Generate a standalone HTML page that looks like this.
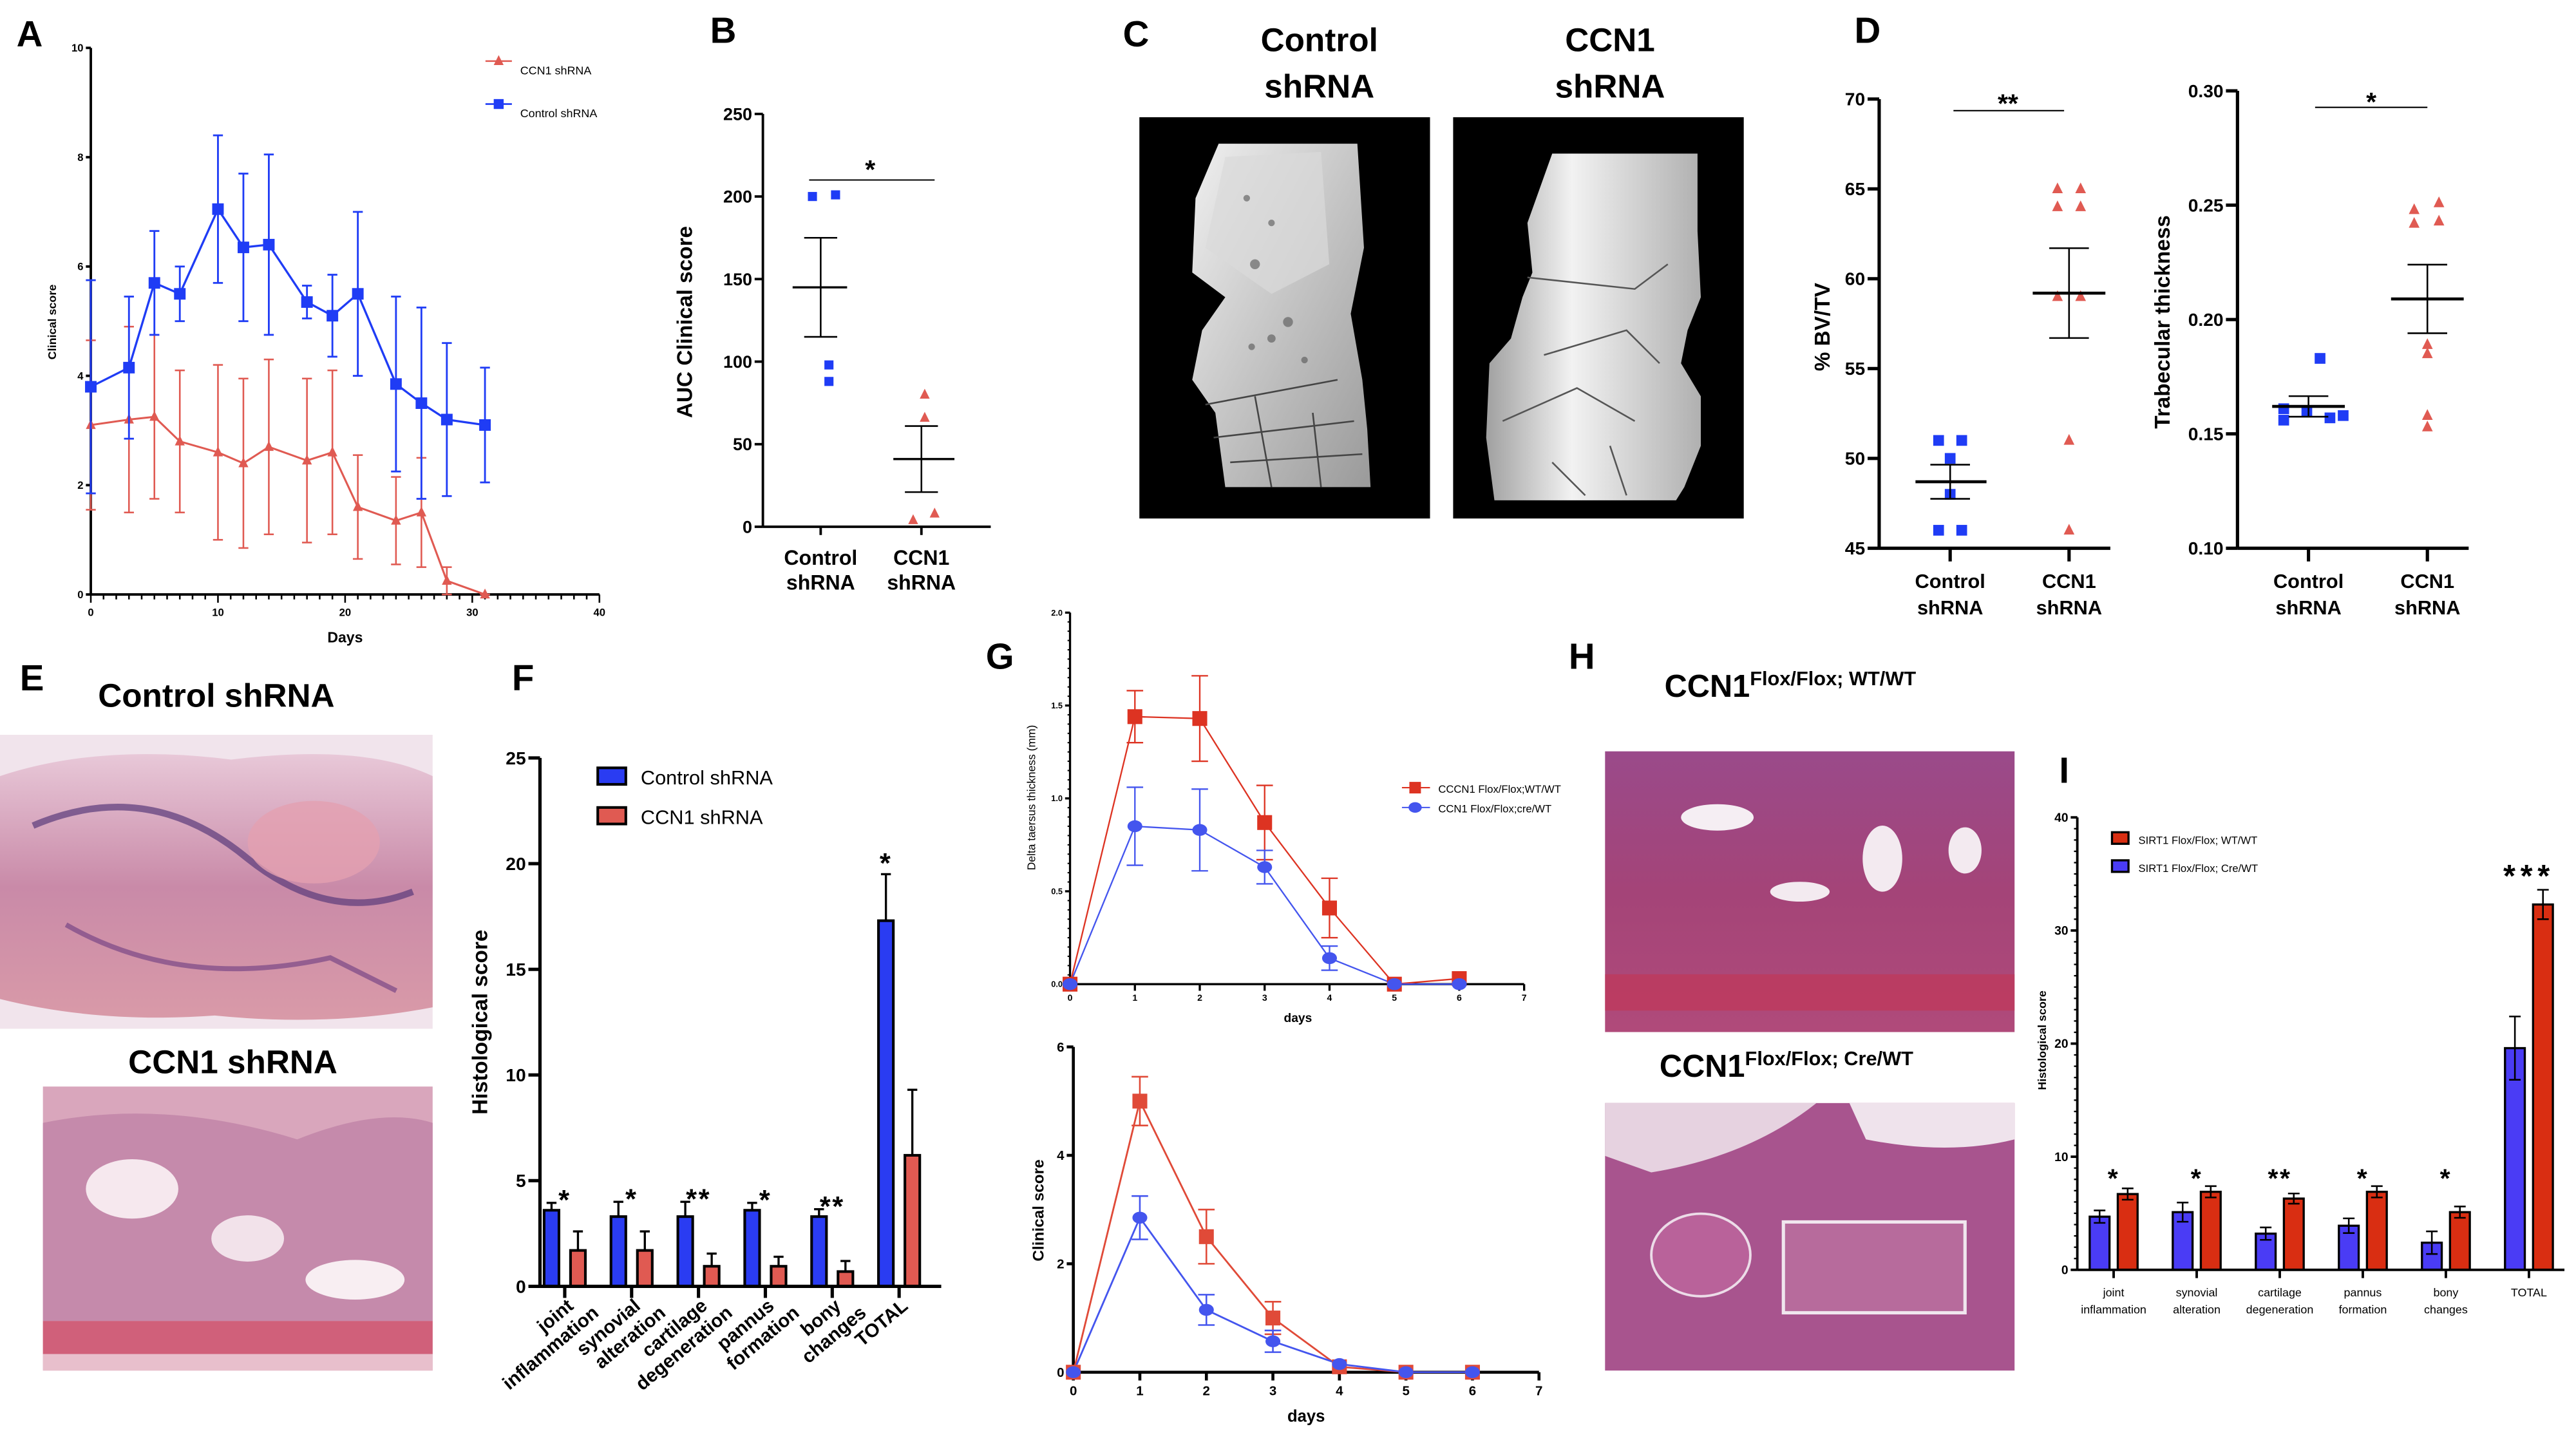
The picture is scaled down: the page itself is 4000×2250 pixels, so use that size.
<!DOCTYPE html>
<html><head><meta charset="utf-8">
<style>
html,body{margin:0;padding:0;background:#fff;}
svg{display:block;font-family:"Liberation Sans",Arial,sans-serif;}
.b{font-weight:bold;}
</style></head>
<body>
<svg id="fig" xmlns="http://www.w3.org/2000/svg" width="4000" height="2250" viewBox="0 0 1560 877.5">
<defs>
<linearGradient id="bone1" x1="0" y1="0" x2="1" y2="1"><stop offset="0" stop-color="#f0f0f0"/><stop offset="0.5" stop-color="#c4c4c4"/><stop offset="1" stop-color="#9a9a9a"/></linearGradient>
<linearGradient id="bone2" x1="0" y1="0" x2="1" y2="0"><stop offset="0" stop-color="#a0a0a0"/><stop offset="0.4" stop-color="#f2f2f2"/><stop offset="1" stop-color="#b0b0b0"/></linearGradient>
<linearGradient id="histE" x1="0" y1="0" x2="0" y2="1"><stop offset="0" stop-color="#e8c8d8"/><stop offset="0.5" stop-color="#c98aa8"/><stop offset="1" stop-color="#d99aa8"/></linearGradient>
<linearGradient id="histH" x1="0" y1="0" x2="0" y2="1"><stop offset="0" stop-color="#9a4a8a"/><stop offset="0.5" stop-color="#a44478"/><stop offset="1" stop-color="#b04a7a"/></linearGradient>
</defs>

<text class="b" x="10" y="28" font-size="22">A</text>
<text class="b" x="430" y="26" font-size="22">B</text>
<text class="b" x="680" y="28" font-size="22">C</text>
<text class="b" x="1123" y="26" font-size="22">D</text>
<text class="b" x="12" y="418" font-size="22">E</text>
<text class="b" x="310" y="418" font-size="22">F</text>
<text class="b" x="597" y="405" font-size="22">G</text>
<text class="b" x="950" y="405" font-size="22">H</text>
<text class="b" x="1247" y="474" font-size="22">I</text>

<g>
<text class="b" x="799" y="31" font-size="20" text-anchor="middle">Control</text>
<text class="b" x="799" y="59" font-size="20" text-anchor="middle">shRNA</text>
<rect x="690" y="71" width="176" height="243" fill="#000"/>
<path d="M738 87 L822 87 L826 150 L818 190 L825 230 L828 260 L830 295 L742 295 L736 250 L722 230 L728 200 L742 180 L722 165 L724 120 Z" fill="url(#bone1)"/>
<path d="M742 95 L800 92 L805 160 L770 178 L730 150 Z" fill="#dadada" opacity="0.7"/>
<g fill="#555" opacity="0.6"><circle cx="755" cy="120" r="2"/><circle cx="770" cy="135" r="2"/><circle cx="760" cy="160" r="3"/><circle cx="780" cy="195" r="3"/><circle cx="758" cy="210" r="2"/><circle cx="790" cy="218" r="2"/><circle cx="770" cy="205" r="2.5"/></g>
<path d="M730 245 L810 230 M735 265 L820 255 M760 240 L770 295 M745 280 L825 275 M795 250 L800 295" stroke="#444" stroke-width="1" fill="none"/>
</g>
<g>
<text class="b" x="975" y="31" font-size="20" text-anchor="middle">CCN1</text>
<text class="b" x="975" y="59" font-size="20" text-anchor="middle">shRNA</text>
<rect x="880" y="71" width="176" height="243" fill="#000"/>
<path d="M940 93 L1028 93 L1028 140 L1030 180 L1022 200 L1018 220 L1030 240 L1030 270 L1020 295 L1015 303 L905 303 L900 265 L902 220 L915 205 L922 180 L928 165 L925 135 Z" fill="url(#bone2)"/>
<path d="M925 168 L990 175 L1010 160 M935 215 L985 200 L1005 220 M910 255 L955 235 L990 255 M940 280 L960 300 M975 270 L985 300" stroke="#555" stroke-width="1" fill="none"/>
</g>

<g>
<text class="b" x="131" y="428" font-size="20" text-anchor="middle">Control shRNA</text>
<rect x="0" y="445" width="262" height="178" fill="#f1e4ec"/>
<path d="M0 470 Q60 450 140 460 Q220 450 262 470 L262 610 Q200 622 130 615 Q60 620 0 605 Z" fill="url(#histE)"/>
<path d="M20 500 Q90 470 150 520 Q200 560 250 540" stroke="#5a3a7a" stroke-width="4" fill="none" opacity="0.7"/>
<path d="M40 560 Q110 600 200 580 L240 600" stroke="#6a3a80" stroke-width="3" fill="none" opacity="0.6"/>
<ellipse cx="190" cy="510" rx="40" ry="25" fill="#e3a0b0" opacity="0.8"/>
<text class="b" x="141" y="650" font-size="20" text-anchor="middle">CCN1 shRNA</text>
<rect x="26" y="658" width="236" height="172" fill="#d9a6bc"/>
<path d="M26 680 Q100 665 180 690 Q230 670 262 680 L262 800 L26 800 Z" fill="#c58aab"/>
<ellipse cx="80" cy="720" rx="28" ry="18" fill="#f6e8ee"/>
<ellipse cx="150" cy="750" rx="22" ry="14" fill="#f2e2ea"/>
<ellipse cx="215" cy="775" rx="30" ry="12" fill="#f8eef2"/>
<rect x="26" y="800" width="236" height="20" fill="#d0607a"/>
<rect x="26" y="820" width="236" height="10" fill="#e8bfcc"/>
</g>

<g>
<text class="b" x="1008" y="422" font-size="19">CCN1<tspan font-size="12" dy="-7">Flox/Flox; WT/WT</tspan></text>
<rect x="972" y="455" width="248" height="170" fill="url(#histH)"/>
<ellipse cx="1040" cy="495" rx="22" ry="8" fill="#f5eef3"/>
<ellipse cx="1140" cy="520" rx="12" ry="20" fill="#f3eaf0"/>
<ellipse cx="1090" cy="540" rx="18" ry="6" fill="#f3eaf0"/>
<ellipse cx="1190" cy="515" rx="10" ry="14" fill="#f3eaf0"/>
<rect x="972" y="590" width="248" height="22" fill="#c03858" opacity="0.7"/>
<text class="b" x="1005" y="652" font-size="19">CCN1<tspan font-size="12" dy="-7">Flox/Flox; Cre/WT</tspan></text>
<rect x="972" y="668" width="248" height="162" fill="#a8548e"/>
<path d="M972 668 L1100 668 Q1060 700 1000 710 L972 700 Z" fill="#e6d2e0"/>
<path d="M1120 668 L1220 668 L1220 690 Q1180 700 1130 690 Z" fill="#efe3ec"/>
<rect x="1080" y="740" width="110" height="55" fill="#b76b9c" stroke="#f0e6ee" stroke-width="2"/>
<ellipse cx="1030" cy="760" rx="30" ry="25" fill="#b9629a" stroke="#ecdce8" stroke-width="1.5"/>
</g>

<g id="charts"></g>
</svg>

<script>
// ---------- DATA ----------
const aDays = [0,3,5,7,10,12,14,17,19,21,24,26,28,31];
const aCtrl = [3.8,4.15,5.7,5.5,7.05,6.35,6.4,5.35,5.1,5.5,3.85,3.5,3.2,3.1];
const aCtrlErr = [1.95,1.3,0.95,0.5,1.35,1.35,1.65,0.3,0.75,1.5,1.6,1.75,1.4,1.05];
const aCcn = [3.1,3.2,3.25,2.8,2.6,2.4,2.7,2.45,2.6,1.6,1.35,1.5,0.25,0];
const aCcnErr = [1.55,1.7,1.5,1.3,1.6,1.55,1.6,1.5,1.5,0.95,0.8,1.0,0.25,0];
const aXTicks = [0,10,20,30,40];
const aYTicks = [0,2,4,6,8,10];
const bCtrl = [200,201,98,88];
const bCcn = [80,66,4,8];
const bCtrlMean = [145,30];
const bCcnMean = [41,20];
const bYTicks = [0,50,100,150,200,250];
const dBvCtrl = [51,51,50,48,46,46];
const dBvCcn = [65,65,64,64,59,59,51,46];
const dBvCtrlMean = [48.7,0.95];
const dBvCcnMean = [59.2,2.5];
const dBvTicks = [45,50,55,60,65,70];
const dTtCtrl = [0.183,0.161,0.156,0.160,0.157,0.158];
const dTtCcn = [0.248,0.251,0.242,0.243,0.189,0.185,0.158,0.153];
const dTtCtrlMean = [0.162,0.0045];
const dTtCcnMean = [0.209,0.015];
const dTtTicks = [0.10,0.15,0.20,0.25,0.30];
const fCats = [["joint","inflammation"],["synovial","alteration"],["cartilage","degeneration"],["pannus","formation"],["bony","changes"],["TOTAL"]];
const fCtrl = [3.6,3.3,3.3,3.6,3.3,17.3];
const fCtrlErr = [0.35,0.7,0.7,0.35,0.35,2.2];
const fCcn = [1.7,1.7,0.95,0.95,0.7,6.2];
const fCcnErr = [0.9,0.9,0.6,0.45,0.5,3.1];
const fStars = ["*","*","**","*","**","*"];
const fYTicks = [0,5,10,15,20,25];
const gDays = [0,1,2,3,4,5,6];
const gThickWT = [0,1.44,1.43,0.87,0.41,0,0.03];
const gThickWTErr = [0,0.14,0.23,0.2,0.16,0,0];
const gThickCre = [0,0.85,0.83,0.63,0.14,0,0];
const gThickCreErr = [0,0.21,0.22,0.09,0.065,0,0];
const gScoreWT = [0,5,2.5,1,0.1,0,0];
const gScoreWTErr = [0,0.45,0.5,0.3,0,0,0];
const gScoreCre = [0,2.85,1.15,0.57,0.15,0,0];
const gScoreCreErr = [0,0.4,0.28,0.2,0,0,0];
const gXTicks = [0,1,2,3,4,5,6,7];
const gTopYTicks = [0,0.5,1.0,1.5,2.0];
const gBotYTicks = [0,2,4,6];
const iCats = [["joint","inflammation"],["synovial","alteration"],["cartilage","degeneration"],["pannus","formation"],["bony","changes"],["TOTAL"]];
const iCre = [4.7,5.1,3.2,3.9,2.4,19.6];
const iCreErr = [0.55,0.85,0.55,0.65,1.0,2.8];
const iWT = [6.7,6.9,6.3,6.9,5.1,32.3];
const iWTErr = [0.5,0.5,0.45,0.5,0.5,1.3];
const iStars = ["*","*","**","*","*","***"];
const iYTicks = [0,10,20,30,40];

// ---------- HELPERS ----------
const NS = "http://www.w3.org/2000/svg";
const root = document.getElementById('charts');
function mk(parent, tag, attrs){const e=document.createElementNS(NS,tag);for(const k in attrs)e.setAttribute(k,attrs[k]);parent.appendChild(e);return e;}
function lin(d0,d1,r0,r1){return v=>r0+(v-d0)*(r1-r0)/(d1-d0);}
function grp(name){const g=mk(root,'g',{});


return g;}
function line(p,x1,y1,x2,y2,c,w,name){const e=mk(p,'line',{x1,y1,x2,y2,stroke:c,'stroke-width':w});


return e;}
function txt(p,x,y,s,size,opts,name){const e=mk(p,'text',Object.assign({x,y,'font-size':size},opts||{}));e.textContent=s;


return e;}
function errbar(p,x,y1,y2,cap,c,w,name){const g=mk(p,'g',{});


mk(g,'line',{x1:x,y1:y1,x2:x,y2:y2,stroke:c,'stroke-width':w});
mk(g,'line',{x1:x-cap,y1:y1,x2:x+cap,y2:y1,stroke:c,'stroke-width':w});
mk(g,'line',{x1:x-cap,y1:y2,x2:x+cap,y2:y2,stroke:c,'stroke-width':w});return g;}
function marker(p,type,x,y,s,c,name){let e;
if(type==='sq')e=mk(p,'rect',{x:x-s/2,y:y-s/2,width:s,height:s,fill:c});
else if(type==='tri')e=mk(p,'polygon',{points:`${x},${y-s*0.6} ${x-s/2},${y+s*0.4} ${x+s/2},${y+s*0.4}`,fill:c});
else e=mk(p,'ellipse',{cx:x,cy:y,rx:s/2,ry:s*0.4,fill:c});


return e;}
function poly(p,pts,c,w,name){const e=mk(p,'polyline',{points:pts.map(q=>q.join(',')).join(' '),fill:'none',stroke:c,'stroke-width':w});


return e;}
function yAxis(p,x,sy,ticks,fmt,tl,fs,name,minorStep,dmin,dmax,lw){
  const g=mk(p,'g',{});
  
  
  line(g,x,sy(dmin),x,sy(dmax),'#000',lw,'y-axis-line');
  if(minorStep){for(let v=dmin;v<=dmax+1e-9;v+=minorStep){line(g,x-tl*0.5,sy(v),x,sy(v),'#000',lw*0.6,'y-minor-tick');}}
  ticks.forEach(t=>{line(g,x-tl,sy(t),x,sy(t),'#000',lw,'y-tick');
    txt(g,x-tl-1.5,sy(t)+fs*0.35,fmt(t),fs,{'text-anchor':'end','font-weight':'bold'},'y-tick-label');});
  return g;}
const RED='#e05a52', BLUE='#1f3cf5';

// ---------- PANEL A ----------
(function(){
 const g=grp('panel-a-clinical-score-chart');
 const sx=lin(0,40,55,363), sy=lin(0,10,360,29);
 yAxis(g,55,sy,aYTicks,String,3,6.5,'a-y-axis',0,0,10,1.5);
 line(g,55,360,363,360,'#000',1.5,'a-x-axis-line');
 for(let d=0;d<=40;d++){line(g,sx(d),360,sx(d),d%10===0?365:363,'#000',1,'a-x-tick');}
 aXTicks.forEach(t=>txt(g,sx(t),373,String(t),6.5,{'text-anchor':'middle','font-weight':'bold'},'a-x-tick-label'));
 txt(g,209,389,'Days',9,{'text-anchor':'middle','font-weight':'bold'},'a-x-axis-title');
 txt(g,34,195,'Clinical score',7,{'text-anchor':'middle','font-weight':'bold',transform:'rotate(-90 34 195)'},'a-y-axis-title');
 aDays.forEach((d,i)=>errbar(g,sx(d),sy(aCcn[i]+aCcnErr[i]),sy(aCcn[i]-aCcnErr[i]),3,RED,1,'a-ccn1-errorbar'));
 poly(g,aDays.map((d,i)=>[sx(d),sy(aCcn[i])]),RED,1.2,'a-ccn1-line');
 aDays.forEach((d,i)=>marker(g,'tri',sx(d),sy(aCcn[i]),6,RED,'a-ccn1-point'));
 aDays.forEach((d,i)=>errbar(g,sx(d),sy(aCtrl[i]+aCtrlErr[i]),sy(aCtrl[i]-aCtrlErr[i]),3,BLUE,1.1,'a-control-errorbar'));
 poly(g,aDays.map((d,i)=>[sx(d),sy(aCtrl[i])]),BLUE,1.3,'a-control-line');
 aDays.forEach((d,i)=>marker(g,'sq',sx(d),sy(aCtrl[i]),7,BLUE,'a-control-point'));
 line(g,294,37,310,37,RED,1,'a-legend-ccn1-line'); marker(g,'tri',302,37,6,RED,'a-legend-ccn1-marker');
 txt(g,315,45,'CCN1 shRNA',7,{},'a-legend-ccn1-label');
 line(g,294,63,310,63,BLUE,1,'a-legend-control-line'); marker(g,'sq',302,63,6,BLUE,'a-legend-control-marker');
 txt(g,315,71,'Control shRNA',7,{},'a-legend-control-label');
})();

// ---------- PANEL B ----------
(function(){
 const g=grp('panel-b-auc-chart');
 const sy=lin(0,250,319,69);
 yAxis(g,462,sy,bYTicks,String,5,10.5,'b-y-axis',0,0,250,1.5);
 line(g,462,319,600,319,'#000',1.5,'b-x-axis-line');
 line(g,497,319,497,324,'#000',1.5,'b-x-tick'); line(g,558,319,558,324,'#000',1.5,'b-x-tick');
 txt(g,419,195,'AUC Clinical score',13,{'text-anchor':'middle','font-weight':'bold',transform:'rotate(-90 419 195)'},'b-y-axis-title');
 txt(g,497,342,'Control',12.5,{'text-anchor':'middle','font-weight':'bold'},'b-x-label-control');
 txt(g,497,357,'shRNA',12.5,{'text-anchor':'middle','font-weight':'bold'},'b-x-label-control');
 txt(g,558,342,'CCN1',12.5,{'text-anchor':'middle','font-weight':'bold'},'b-x-label-ccn1');
 txt(g,558,357,'shRNA',12.5,{'text-anchor':'middle','font-weight':'bold'},'b-x-label-ccn1');
 const cx=[492,506,502,502], rx=[560,560,553,566];
 bCtrl.forEach((v,i)=>marker(g,'sq',cx[i],sy(v),5.5,BLUE,'b-control-point'));
 bCcn.forEach((v,i)=>marker(g,'tri',rx[i],sy(v),6,RED,'b-ccn1-point'));
 line(g,480,sy(bCtrlMean[0]),513,sy(bCtrlMean[0]),'#000',1.3,'b-control-mean');
 errbar(g,497,sy(bCtrlMean[0]+bCtrlMean[1]),sy(bCtrlMean[0]-bCtrlMean[1]),10,'#000',1,'b-control-sem');
 line(g,541,sy(bCcnMean[0]),578,sy(bCcnMean[0]),'#000',1.3,'b-ccn1-mean');
 errbar(g,558,sy(bCcnMean[0]+bCcnMean[1]),sy(bCcnMean[0]-bCcnMean[1]),10,'#000',1,'b-ccn1-sem');
 line(g,490,109,566,109,'#000',0.8,'b-significance-line');
 txt(g,527,108,'*',16,{'text-anchor':'middle','font-weight':'bold'},'b-significance-star');
})();

// ---------- PANEL D ----------
(function(){
 const g=grp('panel-d-bvtv-chart');
 const sy=lin(45,70,332,60);
 yAxis(g,1138,sy,dBvTicks,String,7,11,'d-bvtv-y-axis',0,45,70,2);
 line(g,1138,332,1278,332,'#000',2,'d-bvtv-x-axis-line');
 line(g,1181,332,1181,340,'#000',2,'d-bvtv-x-tick'); line(g,1253,332,1253,340,'#000',2,'d-bvtv-x-tick');
 txt(g,1108,198,'% BV/TV',13,{'text-anchor':'middle','font-weight':'bold',transform:'rotate(-90 1108 198)'},'d-bvtv-y-axis-title');
 [['Control',1181],['CCN1',1253]].forEach(a=>{txt(g,a[1],356,a[0],12,{'text-anchor':'middle','font-weight':'bold'},'d-bvtv-x-label');txt(g,a[1],372,'shRNA',12,{'text-anchor':'middle','font-weight':'bold'},'d-bvtv-x-label');});
 const cx=[1174,1188,1181,1181,1174,1188], rx=[1246,1260,1246,1260,1246,1260,1253,1253];
 dBvCtrl.forEach((v,i)=>marker(g,'sq',cx[i],sy(v),6.5,BLUE,'d-bvtv-control-point'));
 dBvCcn.forEach((v,i)=>marker(g,'tri',rx[i],sy(v),6.5,RED,'d-bvtv-ccn1-point'));
 line(g,1160,sy(dBvCtrlMean[0]),1203,sy(dBvCtrlMean[0]),'#000',1.8,'d-bvtv-control-mean');
 errbar(g,1181,sy(dBvCtrlMean[0]+dBvCtrlMean[1]),sy(dBvCtrlMean[0]-dBvCtrlMean[1]),12,'#000',1,'d-bvtv-control-sem');
 line(g,1231,sy(dBvCcnMean[0]),1275,sy(dBvCcnMean[0]),'#000',1.8,'d-bvtv-ccn1-mean');
 errbar(g,1253,sy(dBvCcnMean[0]+dBvCcnMean[1]),sy(dBvCcnMean[0]-dBvCcnMean[1]),12,'#000',1,'d-bvtv-ccn1-sem');
 line(g,1183,67,1250,67,'#000',0.8,'d-bvtv-significance-line');
 txt(g,1216,68,'**',16,{'text-anchor':'middle','font-weight':'bold'},'d-bvtv-significance-star');

 const g2=grp('panel-d-trabecular-chart');
 const sy2=lin(0.10,0.30,332,55);
 yAxis(g2,1355,sy2,dTtTicks,v=>v.toFixed(2),7,11,'d-tt-y-axis',0,0.10,0.30,2);
 line(g2,1355,332,1495,332,'#000',2,'d-tt-x-axis-line');
 line(g2,1398,332,1398,340,'#000',2,'d-tt-x-tick'); line(g2,1470,332,1470,340,'#000',2,'d-tt-x-tick');
 txt(g2,1314,195,'Trabecular thickness',13,{'text-anchor':'middle','font-weight':'bold',transform:'rotate(-90 1314 195)'},'d-tt-y-axis-title');
 [['Control',1398],['CCN1',1470]].forEach(a=>{txt(g2,a[1],356,a[0],12,{'text-anchor':'middle','font-weight':'bold'},'d-tt-x-label');txt(g2,a[1],372,'shRNA',12,{'text-anchor':'middle','font-weight':'bold'},'d-tt-x-label');});
 const cx2=[1405,1383,1383,1397,1411,1419], rx2=[1462,1477,1462,1477,1470,1470,1470,1470];
 dTtCtrl.forEach((v,i)=>marker(g2,'sq',cx2[i],sy2(v),6.5,BLUE,'d-tt-control-point'));
 dTtCcn.forEach((v,i)=>marker(g2,'tri',rx2[i],sy2(v),6.5,RED,'d-tt-ccn1-point'));
 line(g2,1376,sy2(dTtCtrlMean[0]),1420,sy2(dTtCtrlMean[0]),'#000',1.8,'d-tt-control-mean');
 errbar(g2,1398,sy2(dTtCtrlMean[0]+dTtCtrlMean[1]),sy2(dTtCtrlMean[0]-dTtCtrlMean[1]),12,'#000',1,'d-tt-control-sem');
 line(g2,1448,sy2(dTtCcnMean[0]),1492,sy2(dTtCcnMean[0]),'#000',1.8,'d-tt-ccn1-mean');
 errbar(g2,1470,sy2(dTtCcnMean[0]+dTtCcnMean[1]),sy2(dTtCcnMean[0]-dTtCcnMean[1]),12,'#000',1,'d-tt-ccn1-sem');
 line(g2,1402,65,1470,65,'#000',0.8,'d-tt-significance-line');
 txt(g2,1436,67,'*',16,{'text-anchor':'middle','font-weight':'bold'},'d-tt-significance-star');
})();

// ---------- PANEL F ----------
(function(){
 const g=grp('panel-f-histology-bar-chart');
 const sy=lin(0,25,779,459);
 const centers=fCats.map((c,i)=>342+i*40.5);
 fCtrl.forEach((v,i)=>{const x=centers[i]-8;
  errbar(g,x,sy(v+fCtrlErr[i]),sy(v),3,'#000',1.3,'f-control-errorbar');
  const r=mk(g,'rect',{x:x-4.5,y:sy(v),width:9,height:779-sy(v),fill:'#2a3cf2',stroke:'#000','stroke-width':1.6});
  
  });
 fCcn.forEach((v,i)=>{const x=centers[i]+8;
  errbar(g,x,sy(v+fCcnErr[i]),sy(v),3,'#000',1.3,'f-ccn1-errorbar');
  const r=mk(g,'rect',{x:x-4.5,y:sy(v),width:9,height:779-sy(v),fill:'#e05a52',stroke:'#000','stroke-width':1.6});
  
  });
 yAxis(g,327,sy,fYTicks,String,7,11,'f-y-axis',0,0,25,2);
 line(g,327,779,570,779,'#000',2,'f-x-axis-line');
 txt(g,295,619,'Histological score',13,{'text-anchor':'middle','font-weight':'bold',transform:'rotate(-90 295 619)'},'f-y-axis-title');
 fCats.forEach((c,i)=>{const x=centers[i];line(g,x,779,x,786,'#000',2,'f-x-tick');
  const t=mk(g,'text',{x:x+6,y:792,'font-size':11.5,'font-weight':'bold','text-anchor':'end',transform:`rotate(-40 ${x+6} 792)`});
  
  
  c.forEach((s,k)=>{const ts=mk(t,'tspan',{x:x+6,dy:k?13:0,dx:k?9:0});ts.textContent=s;});});
 fStars.forEach((s,i)=>{const x=centers[i]+(i===5?-8:0);const v=i===5?fCtrl[i]+fCtrlErr[i]:Math.max(fCtrl[i]+fCtrlErr[i],fCcn[i]+fCcnErr[i]);
  txt(g,x,sy(v)+(i===5?-1:4),s,17,{'text-anchor':'middle','font-weight':'bold','letter-spacing':'1'},'f-significance-star');});
 const l1=mk(g,'rect',{x:362,y:465,width:17,height:10,fill:'#2a3cf2',stroke:'#000','stroke-width':1.6});
 
 
 txt(g,388,475,'Control shRNA',12,{},'f-legend-control-label');
 const l2=mk(g,'rect',{x:362,y:489,width:17,height:10,fill:'#e05a52',stroke:'#000','stroke-width':1.6});
 
 
 txt(g,388,499,'CCN1 shRNA',12,{},'f-legend-ccn1-label');
})();

// ---------- PANEL G ----------
(function(){
 const R='#dd3322', B='#4455ee';
 const g=grp('panel-g-thickness-chart');
 const sx=lin(0,7,648,923), sy=lin(0,2,596,371);
 yAxis(g,648,sy,gTopYTicks,v=>v.toFixed(1),3,5,'g-top-y-axis',0.05,0,2,1.3);
 line(g,648,596,923,596,'#000',1.3,'g-top-x-axis-line');
 gXTicks.forEach(t=>{line(g,sx(t),596,sx(t),600,'#000',1.3,'g-top-x-tick');txt(g,sx(t),606,String(t),5.5,{'text-anchor':'middle','font-weight':'bold'},'g-top-x-tick-label');});
 txt(g,786,619,'days',7.5,{'text-anchor':'middle','font-weight':'bold'},'g-top-x-axis-title');
 txt(g,627,483,'Delta taersus thickness (mm)',6.8,{'text-anchor':'middle',transform:'rotate(-90 627 483)'},'g-top-y-axis-title');
 gDays.forEach((d,i)=>{if(gThickWTErr[i])errbar(g,sx(d),sy(gThickWT[i]+gThickWTErr[i]),sy(gThickWT[i]-gThickWTErr[i]),5,R,0.9,'g-top-wt-errorbar');});
 gDays.forEach((d,i)=>{if(gThickCreErr[i])errbar(g,sx(d),sy(gThickCre[i]+gThickCreErr[i]),sy(gThickCre[i]-gThickCreErr[i]),5,B,0.9,'g-top-cre-errorbar');});
 poly(g,gDays.map((d,i)=>[sx(d),sy(gThickWT[i])]),R,0.9,'g-top-wt-line');
 poly(g,gDays.map((d,i)=>[sx(d),sy(gThickCre[i])]),B,0.9,'g-top-cre-line');
 gDays.forEach((d,i)=>marker(g,'sq',sx(d),sy(gThickWT[i]),9,R,'g-top-wt-point'));
 gDays.forEach((d,i)=>marker(g,'circ',sx(d),sy(gThickCre[i]),9,B,'g-top-cre-point'));
 line(g,849,477,866,477,R,0.8,'g-legend-wt-line'); marker(g,'sq',857,477,7,R,'g-legend-wt-marker');
 txt(g,871,480,'CCCN1 Flox/Flox;WT/WT',6.5,{},'g-legend-wt-label');
 line(g,849,489,866,489,B,0.8,'g-legend-cre-line'); marker(g,'circ',857,489,8,B,'g-legend-cre-marker');
 txt(g,871,492,'CCN1 Flox/Flox;cre/WT',6.5,{},'g-legend-cre-label');

 const g2=grp('panel-g-clinical-chart');
 const R2='#e04a38';
 const sx2=lin(0,7,650,932), sy2=lin(0,6,831,634);
 yAxis(g2,650,sy2,gBotYTicks,String,4,8,'g-bottom-y-axis',0,0,6,1.8);
 line(g2,650,831,932,831,'#000',1.8,'g-bottom-x-axis-line');
 gXTicks.forEach(t=>{line(g2,sx2(t),831,sx2(t),836,'#000',1.8,'g-bottom-x-tick');txt(g2,sx2(t),845,String(t),8,{'text-anchor':'middle','font-weight':'bold'},'g-bottom-x-tick-label');});
 txt(g2,791,861,'days',10,{'text-anchor':'middle','font-weight':'bold'},'g-bottom-x-axis-title');
 txt(g2,632,733,'Clinical score',9.5,{'text-anchor':'middle','font-weight':'bold',transform:'rotate(-90 632 733)'},'g-bottom-y-axis-title');
 gDays.forEach((d,i)=>{if(gScoreWTErr[i])errbar(g2,sx2(d),sy2(gScoreWT[i]+gScoreWTErr[i]),sy2(gScoreWT[i]-gScoreWTErr[i]),5,R2,1,'g-bottom-wt-errorbar');});
 gDays.forEach((d,i)=>{if(gScoreCreErr[i])errbar(g2,sx2(d),sy2(gScoreCre[i]+gScoreCreErr[i]),sy2(gScoreCre[i]-gScoreCreErr[i]),5,B,1,'g-bottom-cre-errorbar');});
 poly(g2,gDays.map((d,i)=>[sx2(d),sy2(gScoreWT[i])]),R2,1.1,'g-bottom-wt-line');
 poly(g2,gDays.map((d,i)=>[sx2(d),sy2(gScoreCre[i])]),B,1.1,'g-bottom-cre-line');
 gDays.forEach((d,i)=>marker(g2,'sq',sx2(d),sy2(gScoreWT[i]),9,R2,'g-bottom-wt-point'));
 gDays.forEach((d,i)=>marker(g2,'circ',sx2(d),sy2(gScoreCre[i]),9,B,'g-bottom-cre-point'));
})();

// ---------- PANEL I ----------
(function(){
 const g=grp('panel-i-histology-bar-chart');
 const sy=lin(0,40,769,495);
 const centers=iCats.map((c,i)=>1280+i*50.3);
 iCre.forEach((v,i)=>{const x=centers[i]-8.5;
  const r=mk(g,'rect',{x:x-6,y:sy(v),width:12,height:769-sy(v),fill:'#4a3cf5',stroke:'#000','stroke-width':1.3});
  
  
  errbar(g,x,sy(v+iCreErr[i]),sy(v-iCreErr[i]),3.5,'#000',1,'i-cre-errorbar');});
 iWT.forEach((v,i)=>{const x=centers[i]+8.5;
  const r=mk(g,'rect',{x:x-6,y:sy(v),width:12,height:769-sy(v),fill:'#d92e12',stroke:'#000','stroke-width':1.3});
  
  
  errbar(g,x,sy(v+iWTErr[i]),sy(v-iWTErr[i]),3.5,'#000',1,'i-wt-errorbar');});
 yAxis(g,1258,sy,iYTicks,String,4,7.5,'i-y-axis',1,0,40,1.5);
 line(g,1258,769,1553,769,'#000',1.5,'i-x-axis-line');
 txt(g,1239,630,'Histological score',7,{'text-anchor':'middle','font-weight':'bold',transform:'rotate(-90 1239 630)'},'i-y-axis-title');
 iCats.forEach((c,i)=>{const x=centers[i];line(g,x,769,x,774,'#000',1.5,'i-x-tick');
  c.forEach((s,k)=>txt(g,x,785+k*10.5,s,7,{'text-anchor':'middle'},'i-x-tick-label'));});
 iStars.forEach((s,i)=>txt(g,centers[i],i===5?537:719,s,i===5?19:16,{'text-anchor':'middle','font-weight':'bold','letter-spacing':i===5?'3':'1'},'i-significance-star'));
 const l1=mk(g,'rect',{x:1279,y:504,width:10,height:7,fill:'#d92e12',stroke:'#000','stroke-width':1.3});
 
 
 txt(g,1295,511,'SIRT1 Flox/Flox; WT/WT',6.5,{},'i-legend-wt-label');
 const l2=mk(g,'rect',{x:1279,y:521,width:10,height:7,fill:'#4a3cf5',stroke:'#000','stroke-width':1.3});
 
 
 txt(g,1295,528,'SIRT1 Flox/Flox; Cre/WT',6.5,{},'i-legend-cre-label');
})();
</script>
</body></html>
